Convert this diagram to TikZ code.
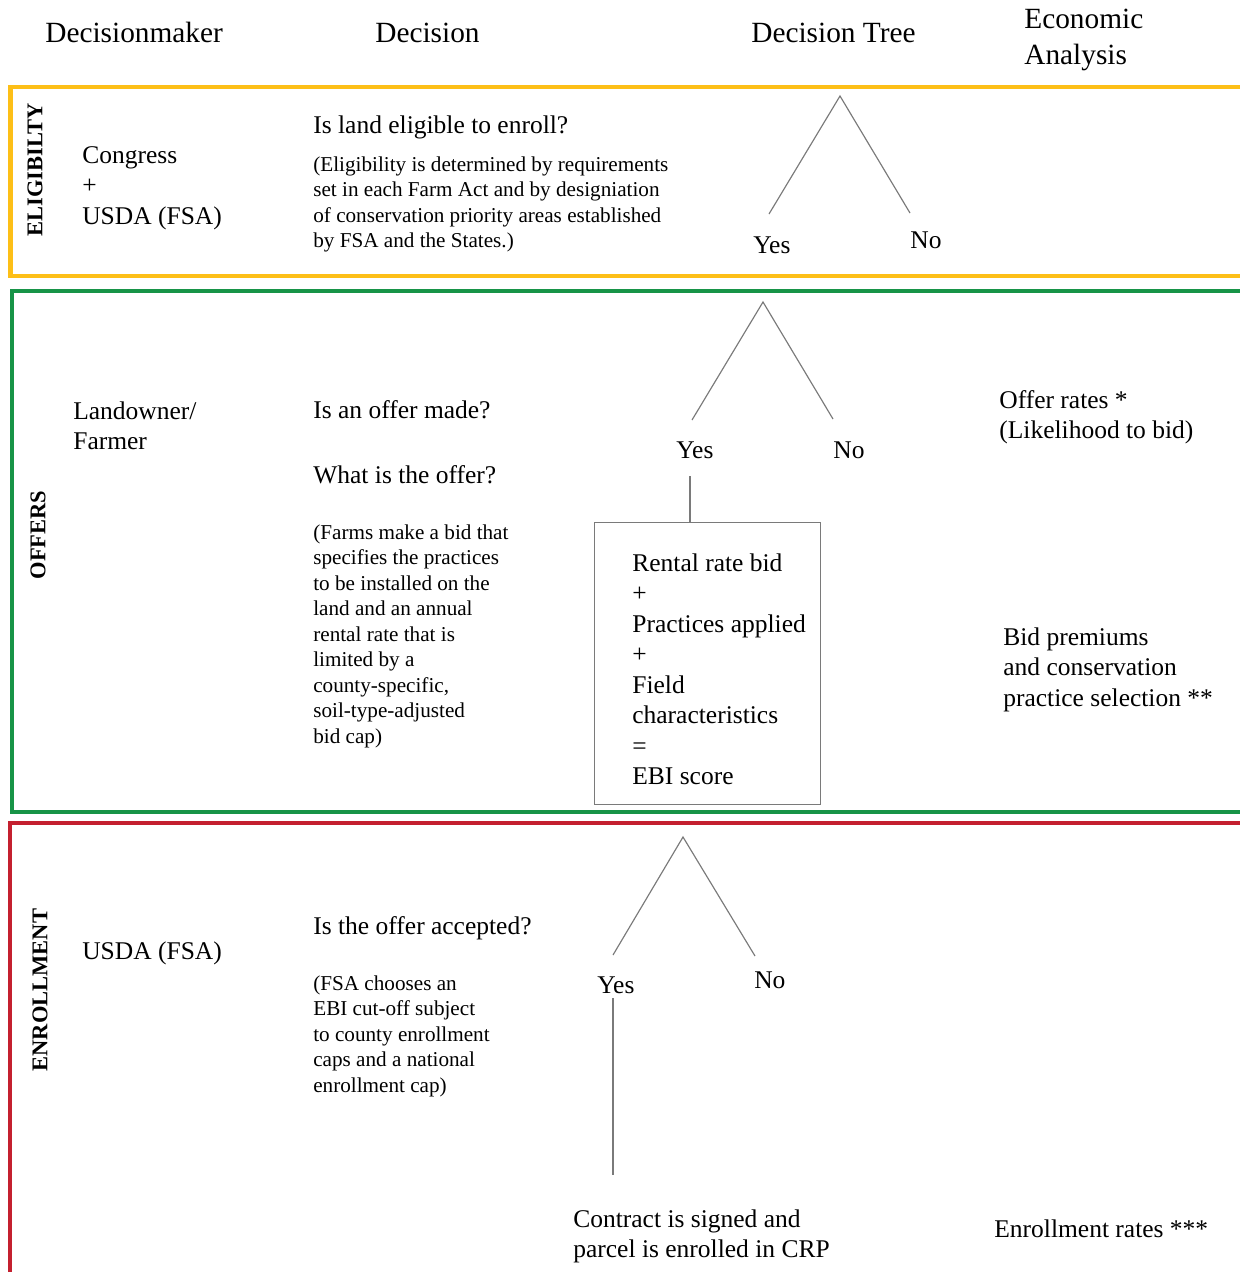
\documentclass[tikz,border=0pt]{standalone}
\usepackage{fontspec}
\setmainfont{Liberation Serif}
\definecolor{ylw}{HTML}{FDBF17}
\definecolor{grn}{HTML}{179447}
\definecolor{rd}{HTML}{C4202F}
\definecolor{treegray}{HTML}{7A7A7A}
\begin{document}
\begin{tikzpicture}[x=0.6pt,y=-0.6pt,
  hdr/.style={anchor=base west,inner sep=0,align=left,font=\fontsize{17.6}{21.6}\selectfont},
  big/.style={anchor=base west,inner sep=0,align=left,font=\fontsize{15.3}{18.3}\selectfont},
  small/.style={anchor=base west,inner sep=0,align=left,font=\fontsize{12.7}{15.3}\selectfont},
  side/.style={rotate=90,inner sep=0,font=\fontsize{13.5}{15}\selectfont\bfseries},
  panel/.style={line width=2.5pt},
  branch/.style={draw=treegray,line width=0.7pt},
  bidbox/.style={draw=treegray,line width=0.8pt,inner sep=0,anchor=north west,minimum width=135.6pt,minimum height=169.2pt}]
\useasboundingbox (0,0) rectangle (1240,1272);
\clip (0,0) rectangle (1240,1272);
% headers (multi-line nodes are placed by the baseline of their last line)
\node[hdr] (h1) at (45,42) {Decisionmaker};
\node[hdr] (h2) at (375,42) {Decision};
\node[hdr] (h3) at (751,42) {Decision Tree};
\node[hdr] (h4) at (1024,64) {Economic\\Analysis};
% panels
\draw[panel,draw=ylw] (1260,87) -- (10.5,87) -- (10.5,276) -- (1260,276);
\draw[panel,draw=grn] (1260,291) -- (12,291) -- (12,812) -- (1260,812);
\draw[panel,draw=rd] (1260,823) -- (10.3,823) -- (10.3,1290);
% side labels
\node[side] (s1) at (35,170) {ELIGIBILTY};
\node[side] (s2) at (38,535) {OFFERS};
\node[side] (s3) at (40,990) {ENROLLMENT};
% eligibility
\node[big] (dm1) at (82,224) {Congress\\+\\USDA (FSA)};
\node[big] (q1) at (313,133) {Is land eligible to enroll?};
\node[small] (n1) at (313,247.5) {(Eligibility is determined by requirements\\set in each Farm Act and by designiation\\of conservation priority areas established\\by FSA and the States.)};
\coordinate (t1a) at (840,96);
\coordinate (t1l) at (769,214);
\coordinate (t1r) at (910,213);
\draw[branch] (t1l) -- (t1a) -- (t1r);
\node[big] (y1) at (753,253) {Yes};
\node[big] (no1) at (910,248) {No};
% offers
\node[big] (dm2) at (73,449.5) {Landowner/\\Farmer};
\node[big] (q2) at (313,418) {Is an offer made?};
\node[big] (q3) at (313,483) {What is the offer?};
\node[small] (n2) at (313,743) {(Farms make a bid that\\specifies the practices\\to be installed on the\\land and an annual\\rental rate that is\\limited by a\\county-specific,\\soil-type-adjusted\\bid cap)};
\coordinate (t2a) at (763,302);
\coordinate (t2l) at (692,420);
\coordinate (t2r) at (833,419);
\draw[branch] (t2l) -- (t2a) -- (t2r);
\node[big] (y2) at (676,458) {Yes};
\node[big] (no2) at (833,458) {No};
\node[bidbox] (box) at (594,522) {};
\coordinate (b2top) at (690,476);
\draw[branch] (b2top) -- (b2top |- box.north);
\node[big] (bt) at (632,784.5) {Rental rate bid\\+\\Practices applied\\+\\Field\\characteristics\\=\\EBI score};
\node[big] (e1) at (999,438.5) {Offer rates *\\(Likelihood to bid)};
\node[big] (e2) at (1003,706) {Bid premiums\\and conservation\\practice selection **};
% enrollment
\node[big] (dm3) at (82,959) {USDA (FSA)};
\node[big] (q4) at (313,934) {Is the offer accepted?};
\node[small] (n3) at (313,1092) {(FSA chooses an\\EBI cut-off subject\\to county enrollment\\caps and a national\\enrollment cap)};
\coordinate (t3a) at (683,837);
\coordinate (t3l) at (613,955);
\coordinate (t3r) at (755,956);
\draw[branch] (t3l) -- (t3a) -- (t3r);
\node[big] (y3) at (597,993) {Yes};
\node[big] (no3) at (754,988) {No};
\coordinate (v3a) at (613,998);
\coordinate (v3b) at (613,1175);
\draw[branch] (v3a) -- (v3b);
\node[big] (c3) at (573,1257.5) {Contract is signed and\\parcel is enrolled in CRP};
\node[big] (e3) at (994,1237) {Enrollment rates ***};
\end{tikzpicture}
\end{document}
